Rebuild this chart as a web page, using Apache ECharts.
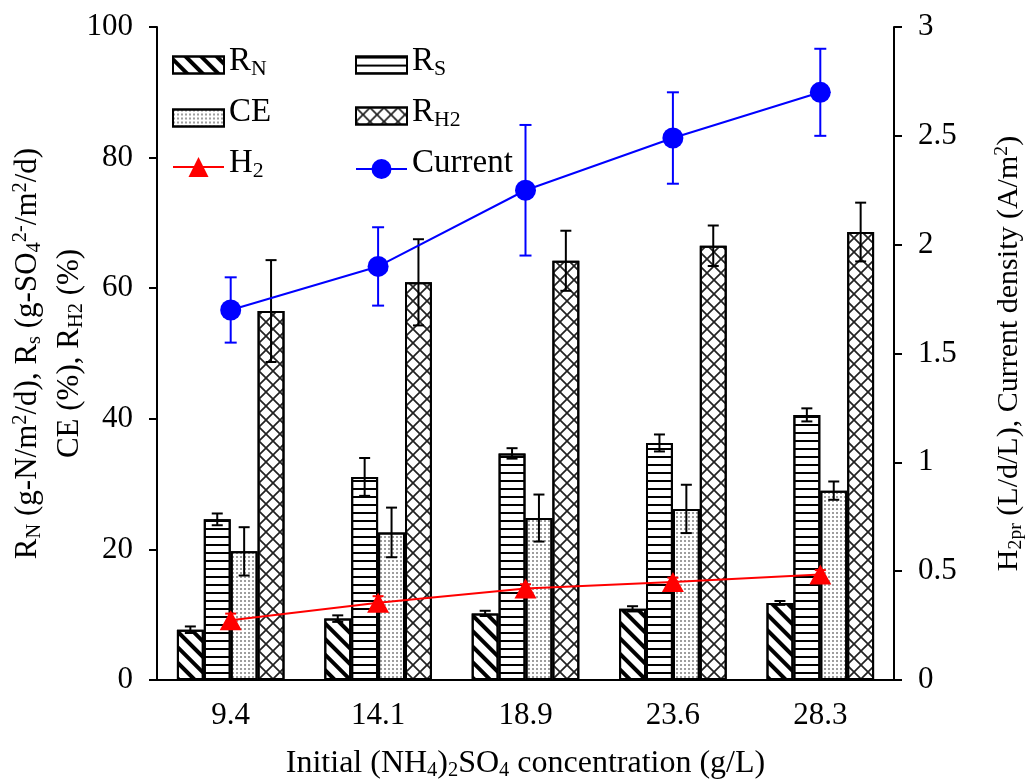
<!DOCTYPE html>
<html>
<head>
<meta charset="utf-8">
<script src="https://cdn.jsdelivr.net/npm/echarts@6/dist/echarts.min.js"></script>
<style>
  html, body { margin: 0; padding: 0; background: #fff; }
  #main { width: 1030px; height: 782px; }
</style>
</head>
<body>
<div id="main"></div>
<script>
// 数据
var categories = ['9.4', '14.1', '18.9', '23.6', '28.3'];
var rN = [7.7, 9.4, 10.2, 10.9, 11.8];
var rNErr = [0.5, 0.5, 0.4, 0.4, 0.3];
var rS = [24.6, 31.1, 34.7, 36.3, 40.6];
var rSErr = [0.9, 2.9, 0.8, 1.3, 1.0];
var ce = [19.7, 22.6, 24.8, 26.2, 29.0];
var ceErr = [3.7, 3.8, 3.6, 3.7, 1.4];
var rH2 = [56.5, 60.9, 64.2, 66.5, 68.6];
var rH2Err = [7.8, 6.6, 4.6, 3.1, 4.5];
var h2 = [0.275, 0.355, 0.42, 0.45, 0.485];
var h2Err = [0.03, 0.03, 0.02, 0.02, 0.02];
var current = [1.70, 1.90, 2.25, 2.49, 2.70];
var currentErr = [0.15, 0.18, 0.30, 0.21, 0.20];
var leftTicks = { min: 0, max: 100, interval: 20 };
var rightTicks = { min: 0, max: 3, interval: 0.5 };

var FONT = "'Liberation Serif', 'Times New Roman', serif";
var CAT_GAP = 0.27;

function rich(size) {
    return {
        sub: { fontFamily: FONT, fontSize: size * 0.66, color: '#000', padding: [size * 0.45, 0, 0, 0] },
        sup: { fontFamily: FONT, fontSize: size * 0.66, color: '#000', padding: [0, 0, size * 0.45, 0] }
    };
}

var decals = {
    RN: { symbol: 'rect', symbolSize: 1, dashArrayX: [1, 0], dashArrayY: [4, 7], rotation: Math.PI / 4, color: '#000' },
    RS: { symbol: 'rect', symbolSize: 1, dashArrayX: [1, 0], dashArrayY: [2, 6], rotation: 0, color: '#000' },
    CE: { symbol: 'circle', symbolSize: 0.8, dashArrayX: [2, 2], dashArrayY: [2, 2], color: '#222' },
    RH2: {
        symbol: 'path://M0 0L1.2 0L7 5.8L12.8 0L14 0L14 1.2L8.2 7L14 12.8L14 14L12.8 14L7 8.2L1.2 14L0 14L0 12.8L5.8 7L0 1.2Z',
        symbolSize: 1, dashArrayX: [14, 0], dashArrayY: [14, 0], color: '#222'
    }
};

var legendText = {
    RN: 'R{sub|N}', RS: 'R{sub|S}', CE: 'CE', RH2: 'R{sub|H2}', H2: 'H{sub|2}', Current: 'Current'
};

var barList = [['RN', rN, rNErr], ['RS', rS, rSErr], ['CE', ce, ceErr], ['RH2', rH2, rH2Err]];

var series = [];
barList.forEach(function (b) {
    series.push({
        name: b[0], type: 'bar', z: 2,
        barGap: '0%', barCategoryGap: (CAT_GAP * 100) + '%',
        itemStyle: { color: '#fff', borderColor: '#000', borderWidth: 2, decal: decals[b[0]] },
        data: b[1]
    });
});

// 柱状图误差线
var barErrData = [];
barList.forEach(function (b, k) {
    for (var i = 0; i < categories.length; i++) {
        barErrData.push([i, b[1][i], b[2][i], k]);
    }
});

function errRender(color, capHalf, isBar) {
    return function (params, api) {
        var cat = api.value(0), val = api.value(1), err = api.value(2);
        var c = api.coord([cat, val]);
        var x = c[0];
        if (isBar) {
            var band = api.size([1, 0])[0];
            var w = band * (1 - CAT_GAP) / 4;
            x = c[0] + (api.value(3) - 1.5) * w;
        }
        var top = api.coord([cat, val + err])[1];
        var bot = api.coord([cat, val - err])[1];
        var st = { stroke: color, lineWidth: 2 };
        return {
            type: 'group',
            children: [
                { type: 'line', shape: { x1: x, y1: top, x2: x, y2: bot }, style: st },
                { type: 'line', shape: { x1: x - capHalf, y1: top, x2: x + capHalf, y2: top }, style: st },
                { type: 'line', shape: { x1: x - capHalf, y1: bot, x2: x + capHalf, y2: bot }, style: st }
            ]
        };
    };
}

series.push({
    name: 'barErr', type: 'custom', z: 3,
    renderItem: errRender('#000', 5.5, true),
    data: barErrData
});

series.push({
    name: 'H2', type: 'line', yAxisIndex: 1, z: 6,
    symbol: 'triangle', symbolSize: [22, 20],
    lineStyle: { color: '#ff0000', width: 2 },
    itemStyle: { color: '#ff0000' },
    data: h2
});
series.push({
    name: 'Current', type: 'line', yAxisIndex: 1, z: 6,
    symbol: 'circle', symbolSize: 21,
    lineStyle: { color: '#0000ff', width: 2 },
    itemStyle: { color: '#0000ff' },
    data: current
});
series.push({
    name: 'h2Err', type: 'custom', yAxisIndex: 1, z: 5,
    renderItem: errRender('#ff0000', 5.5, false),
    data: h2.map(function (v, i) { return [i, v, h2Err[i]]; })
});
series.push({
    name: 'curErr', type: 'custom', yAxisIndex: 1, z: 5,
    renderItem: errRender('#0000ff', 6, false),
    data: current.map(function (v, i) { return [i, v, currentErr[i]]; })
});

// 图例，两列三行
var legendPos = {
    RN: [172, 0], RS: [355, 0], CE: [172, 1], RH2: [355, 1], H2: [172, 2], Current: [355, 2]
};
var legends = Object.keys(legendPos).map(function (name) {
    var isLine = name === 'H2' || name === 'Current';
    var h = isLine ? 25 : 17;
    var cy = 67 + legendPos[name][1] * 51;
    return {
        data: [name], left: legendPos[name][0], top: cy - 22, padding: 0,
        itemWidth: 51, itemHeight: h,
        icon: isLine ? undefined : 'rect',
        selectedMode: false,
        formatter: function (n) { return legendText[n]; },
        textStyle: { fontFamily: FONT, fontSize: 33, color: '#000', height: 44, rich: rich(33) }
    };
});

var axisTextStyle = { fontFamily: FONT, fontSize: 31, color: '#000' };

var option = {
    animation: false,
    backgroundColor: '#fff',
    grid: { left: 157, right: 136, top: 27, bottom: 102, containLabel: false, outerBoundsMode: 'none' },
    legend: legends,
    xAxis: {
        type: 'category', data: categories,
        axisLine: { lineStyle: { color: '#000', width: 2 } },
        axisTick: { length: 8, lineStyle: { color: '#000', width: 2 } },
        axisLabel: Object.assign({ margin: 20 }, axisTextStyle),
        name: 'Initial (NH{sub|4}){sub|2}SO{sub|4} concentration (g/L)',
        nameLocation: 'middle', nameGap: 67, nameMoveOverlap: false,
        nameTextStyle: Object.assign({ rich: rich(31) }, axisTextStyle, { fontSize: 32 })
    },
    yAxis: [{
        type: 'value', min: leftTicks.min, max: leftTicks.max, interval: leftTicks.interval,
        axisLine: { show: true, lineStyle: { color: '#000', width: 2 } },
        axisTick: { show: true, length: 8, lineStyle: { color: '#000', width: 2 } },
        splitLine: { show: false },
        axisLabel: Object.assign({ margin: 24 }, axisTextStyle),
        name: 'R{sub|N} (g-N/m{sup|2}/d), R{sub|s} (g-SO{sub|4}{sup|2-}/m{sup|2}/d)\nCE (%), R{sub|H2} (%)',
        nameLocation: 'middle', nameRotate: 90, nameGap: 66, nameMoveOverlap: false,
        nameTextStyle: { fontFamily: FONT, fontSize: 31, color: '#000', lineHeight: 42, rich: rich(31) }
    }, {
        type: 'value', position: 'right',
        min: rightTicks.min, max: rightTicks.max, interval: rightTicks.interval,
        axisLine: { show: true, lineStyle: { color: '#000', width: 2 } },
        axisTick: { show: true, length: 8, lineStyle: { color: '#000', width: 2 } },
        splitLine: { show: false },
        axisLabel: Object.assign({ margin: 24 }, axisTextStyle),
        name: 'H{sub|2pr} (L/d/L), Current density (A/m{sup|2})',
        nameLocation: 'middle', nameRotate: 90, nameGap: 98, nameMoveOverlap: false,
        nameTextStyle: { fontFamily: FONT, fontSize: 30, color: '#000', rich: rich(30) }
    }],
    series: series
};

var myChart = echarts.init(document.getElementById('main'));
myChart.setOption(option);
</script>
</body>
</html>
